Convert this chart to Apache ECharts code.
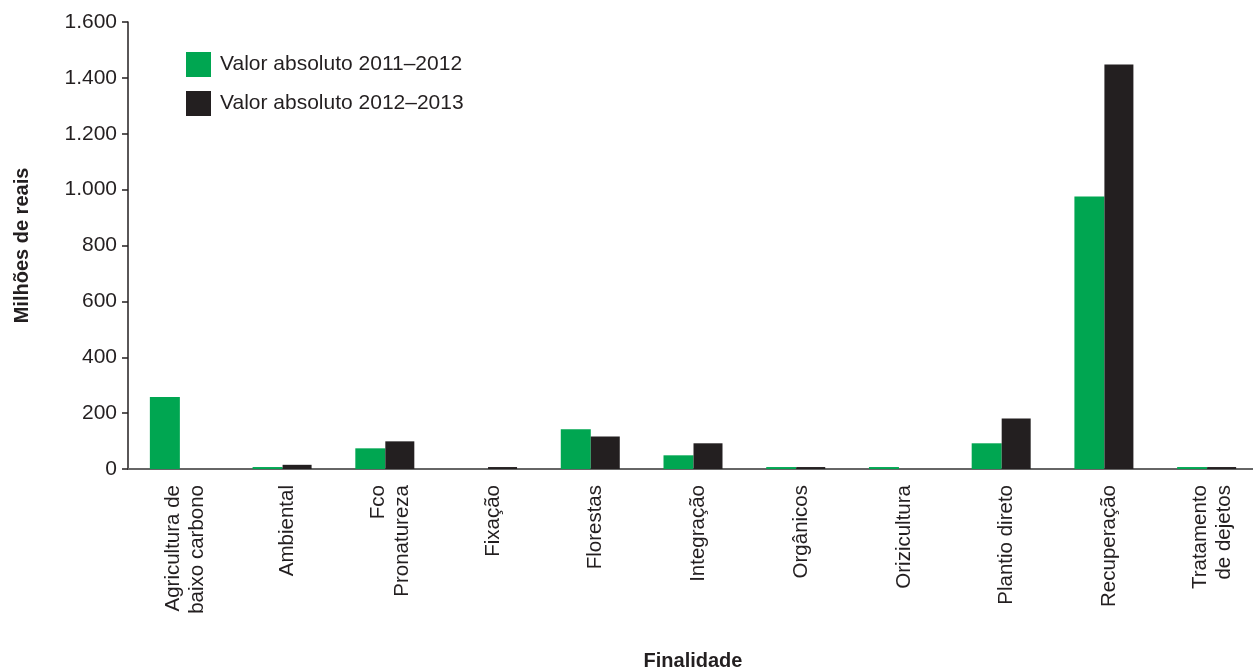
<!DOCTYPE html>
<html><head><meta charset="utf-8">
<script src="https://cdn.jsdelivr.net/npm/echarts@6/dist/echarts.min.js"></script>
<style>html,body{margin:0;padding:0;background:#fff}#c{width:1253px;height:670px}</style>
</head><body><div id="c"></div>
<script>
const categories = ["Agricultura de\nbaixo carbono","Ambiental","Fco\nPronatureza","Fixação","Florestas","Integração","Orgânicos","Orizicultura","Plantio direto","Recuperação","Tratamento\nde dejetos"];
const serie2011 = [258, 7, 74, 0, 142, 49, 7, 7, 92, 975, 7];
const serie2012 = [0, 15, 99, 7, 116, 92, 7, 0, 181, 1448, 7];
const seriesNames = ["Valor absoluto 2011–2012","Valor absoluto 2012–2013"];
const yTicks = {min: 0, max: 1600, interval: 200};

const font = '"Liberation Sans", Arial, sans-serif';
const chart = echarts.init(document.getElementById('c'), null, {renderer: 'canvas'});
chart.setOption({
  animation: false,
  textStyle: {fontFamily: font, color: '#231f20'},
  legend: {
    orient: 'vertical', left: 181, top: 47, itemWidth: 25, itemHeight: 25, itemGap: 14,
    icon: 'rect',
    textStyle: {fontSize: 21, color: '#231f20', fontFamily: font, padding: [0, 0, 0, 4]},
    data: seriesNames
  },
  grid: {left: 128, top: 22, width: 1130, bottom: 201, outerBoundsMode: 'none'},
  xAxis: {
    type: 'category', data: categories,
    name: 'Finalidade', nameLocation: 'middle', nameGap: 182,
    nameTextStyle: {fontSize: 20, fontWeight: 'bold', color: '#231f20', fontFamily: font},
    axisLine: {lineStyle: {color: '#666', width: 2}},
    axisTick: {length: 10, lineStyle: {color: '#231f20', width: 1.5}},
    axisLabel: {rotate: 90, color: '#231f20', margin: 16, fontFamily: font,
      formatter: v => '{p| }\n' + v.split('\n').map(l => '{t|' + l + '}').join('\n'),
      rich: {
        p: {fontSize: 4, lineHeight: 11, height: 11},
        t: {fontSize: 20.5, lineHeight: 24, color: '#231f20', fontFamily: font}
      }}
  },
  yAxis: {
    type: 'value', min: yTicks.min, max: yTicks.max, interval: yTicks.interval,
    name: 'Milhões de reais', nameLocation: 'middle', nameGap: 96, nameRotate: 90,
    nameTextStyle: {fontSize: 20, fontWeight: 'bold', color: '#231f20', fontFamily: font},
    axisLine: {show: true, lineStyle: {color: '#231f20', width: 1.5}},
    axisTick: {show: true, length: 6, lineStyle: {color: '#231f20', width: 1.5}},
    splitLine: {show: false},
    axisLabel: {fontSize: 21, color: '#231f20', margin: 11, fontFamily: font,
      formatter: v => v.toString().replace(/\B(?=(\d{3})+(?!\d))/g, '.')}
  },
  series: [
    {name: seriesNames[0], type: 'bar', data: serie2011, barWidth: 30, barGap: '0%',
     itemStyle: {color: '#00a651'}},
    {name: seriesNames[1], type: 'bar', data: serie2012, barWidth: 29, barGap: '0%',
     itemStyle: {color: '#231f20'}}
  ]
});
</script></body></html>
